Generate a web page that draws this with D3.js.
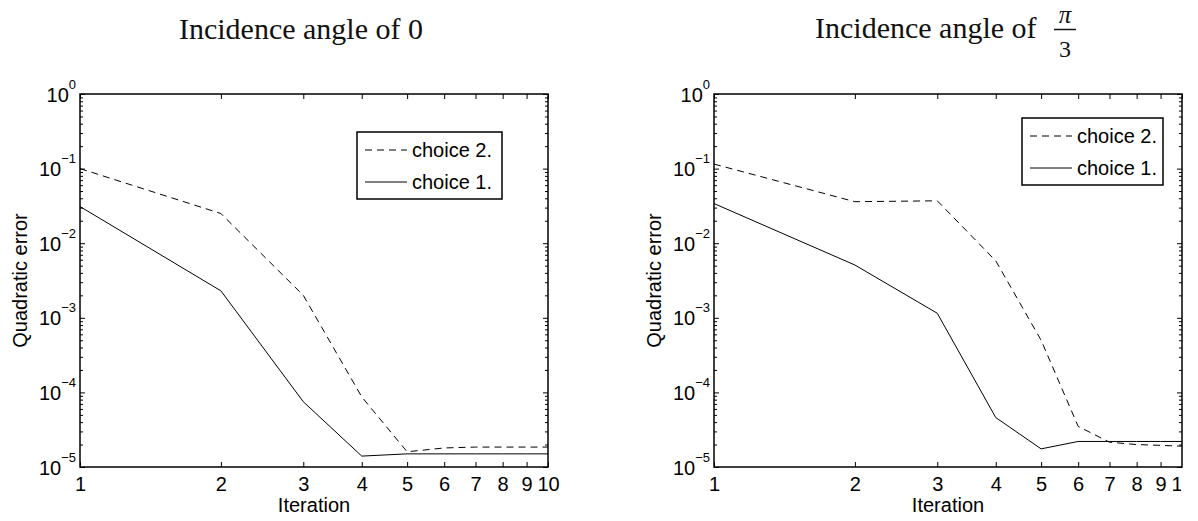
<!DOCTYPE html>
<html>
<head>
<meta charset="utf-8">
<script src="https://cdn.jsdelivr.net/npm/d3@7"></script>
<style>
  body { margin: 0; background: #fff; }
  svg { display: block; }
  .tick text { font-family: "Liberation Sans", Arial, sans-serif; font-size: 20px; fill: #000; }
  .lbl { font-family: "Liberation Sans", Arial, sans-serif; font-size: 20px; fill: #000; }
  .ttl { font-family: "Liberation Serif", "Times New Roman", serif; font-size: 30px; fill: #111; }
</style>
</head>
<body>
<div id="chart"></div>
<script>
// iteration numbers (x) and quadratic error of each method (y)
const iterations = [1, 2, 3, 4, 5, 6, 7, 8, 9, 10];

const zeroChoice1 = [0.031, 0.0023, 7.5e-5, 1.4e-5, 1.5e-5, 1.5e-5, 1.5e-5, 1.5e-5, 1.5e-5, 1.5e-5];
const zeroChoice2 = [0.1, 0.025, 0.002, 8.7e-5, 1.6e-5, 1.8e-5, 1.85e-5, 1.85e-5, 1.85e-5, 1.85e-5];

const piChoice1 = [0.034, 0.0051, 0.00115, 4.6e-5, 1.75e-5, 2.2e-5, 2.2e-5, 2.2e-5, 2.2e-5, 2.2e-5];
const piChoice2 = [0.115, 0.036, 0.037, 0.0058, 5e-4, 3.5e-5, 2.15e-5, 2.0e-5, 1.95e-5, 1.9e-5];

const seriesNames = ["choice 2.", "choice 1."];
const xTicks = [1, 2, 3, 4, 5, 6, 7, 8, 9, 10];
const yDecades = [-5, -4, -3, -2, -1, 0];

const W = 1198, H = 521;
const plotTop = 94, plotBottom = 467;

const panels = [
  { x0: 80, x1: 548, s1: zeroChoice1, s2: zeroChoice2, title: "Incidence angle of 0", frac: false,
    titleX: 221, legX: 277, legY: 132, legW: 145, clipX: W },
  { x0: 714, x1: 1182, s1: piChoice1, s2: piChoice2, title: "Incidence angle of", frac: true,
    titleX: 101, legX: 308, legY: 118, legW: 141, clipX: 1181 }
];

const svg = d3.select("#chart").append("svg")
  .attr("width", W)
  .attr("height", H);

svg.append("rect").attr("width", W).attr("height", H).attr("fill", "#fff");
const defs = svg.append("defs");

const y = d3.scaleLog().domain([1e-5, 1]).range([plotBottom, plotTop]);
const decadeVals = yDecades.map((e) => Math.pow(10, e));
const minorVals = [];
yDecades.slice(0, -1).forEach((e) => {
  for (let m = 2; m <= 9; m++) minorVals.push(m * Math.pow(10, e));
});

function styleAxis(g) {
  g.select(".domain").remove();
  g.selectAll(".tick line").attr("stroke", "#000").attr("stroke-width", 1);
}

panels.forEach((p, pi) => {
  const x = d3.scaleLog().domain([1, 10]).range([p.x0, p.x1]);
  const g = svg.append("g");

  // the original figure cut the last x label of the right panel
  defs.append("clipPath").attr("id", `xclip${pi}`)
    .append("rect").attr("x", 0).attr("y", -20).attr("width", p.clipX).attr("height", 60);

  // minor ticks, left and right
  g.append("g").attr("transform", `translate(${p.x0},0)`)
    .call(d3.axisLeft(y).tickValues(minorVals).tickSize(-3).tickFormat(""))
    .call(styleAxis);
  g.append("g").attr("transform", `translate(${p.x1},0)`)
    .call(d3.axisRight(y).tickValues(minorVals).tickSize(-3).tickFormat(""))
    .call(styleAxis);

  // major y ticks with 10^k labels
  const yl = g.append("g").attr("transform", `translate(${p.x0},0)`)
    .call(d3.axisLeft(y).tickValues(decadeVals).tickSize(-5).tickPadding(4).tickFormat(""))
    .call(styleAxis);
  yl.selectAll(".tick text").each(function (d) {
    const e = Math.round(Math.log10(d));
    const t = d3.select(this).attr("dy", null).attr("y", 7);
    t.append("tspan").text("10");
    t.append("tspan").attr("dy", -13).style("font-size", "13px")
      .text(e === 0 ? "0" : "\u2212" + Math.abs(e));
  });
  g.append("g").attr("transform", `translate(${p.x1},0)`)
    .call(d3.axisRight(y).tickValues(decadeVals).tickSize(-5).tickFormat(""))
    .call(styleAxis);

  // x ticks
  g.append("g").attr("transform", `translate(0,${plotBottom})`)
    .attr("clip-path", `url(#xclip${pi})`)
    .call(d3.axisBottom(x).tickValues(xTicks).tickSize(-5).tickPadding(10).tickFormat(d3.format("d")))
    .call(styleAxis);
  g.append("g").attr("transform", `translate(0,${plotTop})`)
    .call(d3.axisTop(x).tickValues(xTicks).tickSize(-5).tickFormat(""))
    .call(styleAxis);

  // box
  g.append("rect")
    .attr("x", p.x0).attr("y", plotTop)
    .attr("width", p.x1 - p.x0).attr("height", plotBottom - plotTop)
    .attr("fill", "none").attr("stroke", "#000").attr("stroke-width", 1.5);

  // data lines
  const line = d3.line().x((d) => x(d[0])).y((d) => y(d[1]));
  g.append("path")
    .datum(iterations.map((it, i) => [it, p.s2[i]]))
    .attr("d", line).attr("fill", "none").attr("stroke", "#000")
    .attr("stroke-width", 1).attr("stroke-dasharray", "7,5");
  g.append("path")
    .datum(iterations.map((it, i) => [it, p.s1[i]]))
    .attr("d", line).attr("fill", "none").attr("stroke", "#000")
    .attr("stroke-width", 1);

  // axis labels
  svg.append("text").attr("class", "lbl")
    .attr("x", (p.x0 + p.x1) / 2).attr("y", 512)
    .attr("text-anchor", "middle").text("Iteration");
  svg.append("text").attr("class", "lbl")
    .attr("transform", `translate(${p.x0 - 53},${(plotTop + plotBottom) / 2}) rotate(-90)`)
    .attr("text-anchor", "middle").text("Quadratic error");

  // title
  if (!p.frac) {
    svg.append("text").attr("class", "ttl")
      .attr("x", p.x0 + p.titleX).attr("y", 39)
      .attr("text-anchor", "middle").text(p.title);
  } else {
    svg.append("text").attr("class", "ttl")
      .attr("x", p.x0 + p.titleX).attr("y", 38).text(p.title);
    const fx = p.x0 + 351;
    svg.append("text").attr("class", "ttl").attr("x", fx).attr("y", 23)
      .attr("text-anchor", "middle").style("font-size", "25px").style("font-style", "italic")
      .text("\u03c0");
    svg.append("line").attr("x1", fx - 11).attr("x2", fx + 11)
      .attr("y1", 29.5).attr("y2", 29.5).attr("stroke", "#111").attr("stroke-width", 1.5);
    svg.append("text").attr("class", "ttl").attr("x", fx).attr("y", 57)
      .attr("text-anchor", "middle").style("font-size", "24px").text("3");
  }

  // legend
  const lx = p.x0 + p.legX, ly = p.legY;
  const leg = svg.append("g");
  leg.append("rect").attr("x", lx).attr("y", ly).attr("width", p.legW).attr("height", 67)
    .attr("fill", "#fff").attr("stroke", "#000").attr("stroke-width", 1.5);
  seriesNames.forEach((name, i) => {
    const ry = ly + 18 + i * 32;
    leg.append("line").attr("x1", lx + 8).attr("x2", lx + 50).attr("y1", ry).attr("y2", ry)
      .attr("stroke", "#000").attr("stroke-width", 1)
      .attr("stroke-dasharray", i === 0 ? "7,5" : null);
    leg.append("text").attr("class", "lbl").attr("x", lx + 55).attr("y", ry + 7).text(name);
  });
});
</script>
</body>
</html>
